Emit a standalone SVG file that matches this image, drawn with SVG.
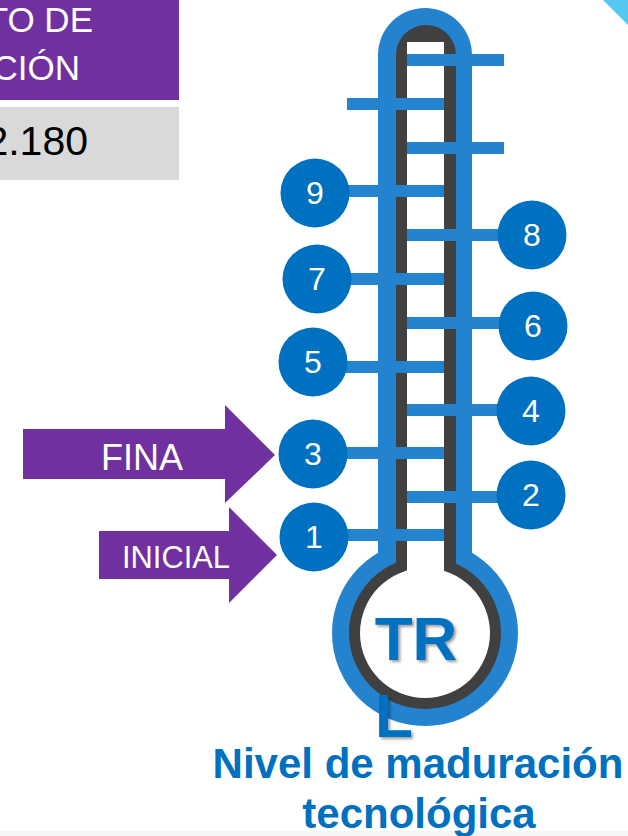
<svg xmlns="http://www.w3.org/2000/svg" width="628" height="836" viewBox="0 0 628 836">
<defs>
<style>
.lvl{fill:#0070C0}
.num{fill:#fff;font-family:"Liberation Sans",Arial,sans-serif;font-size:32px;text-anchor:middle}
.tick{stroke:#2483CF;stroke-width:12;fill:none}
.arrow{fill:#7030A0}
.wt{fill:#fff;font-family:"Liberation Sans",Arial,sans-serif}
.blue{fill:#0070C0;font-family:"Liberation Sans",Arial,sans-serif;font-weight:bold}
</style>
<filter id="sh" x="-20%" y="-20%" width="140%" height="140%">
<feDropShadow dx="2" dy="2" stdDeviation="1.5" flood-color="#000" flood-opacity="0.4"/>
</filter>
</defs>
<rect width="628" height="836" fill="#fff"/>
<polygon points="603,0 628,0 628,25" fill="#55C6F2"/>
<rect x="0" y="831" width="628" height="5" fill="#f5f5f5"/>

<g id="title-box">
<rect x="0" y="0" width="179" height="100" fill="#7030A0"/>
<text class="wt" x="93" y="32" font-size="35" text-anchor="end">TO DE</text>
<text class="wt" x="80" y="80" font-size="35" text-anchor="end">CIÓN</text>
</g>
<g id="value-box">
<rect x="0" y="107" width="179" height="73" fill="#D9D9D9"/>
<text x="88" y="155" font-family="'Liberation Sans',Arial,sans-serif" font-size="41" fill="#000" text-anchor="end">2.180</text>
</g>

<g id="thermometer">
<line x1="425" y1="55" x2="425" y2="633" stroke="#2483CF" stroke-width="94" stroke-linecap="round"/>
<circle cx="425" cy="633" r="93" fill="#2483CF"/>
<line x1="426" y1="55" x2="426" y2="633" stroke="#404040" stroke-width="60" stroke-linecap="round"/>
<circle cx="425" cy="633" r="76" fill="#404040"/>
<rect x="407" y="42" width="37" height="560" fill="#fff"/>
<circle cx="425" cy="633" r="65" fill="#fff"/>
</g>

<g id="connectors">
<line class="tick" x1="407" y1="60" x2="504" y2="60"/>
<line class="tick" x1="347" y1="104" x2="444" y2="104"/>
<line class="tick" x1="407" y1="148" x2="504" y2="148"/>
<line class="tick" x1="315" y1="191" x2="444" y2="191"/>
<line class="tick" x1="407" y1="235" x2="532" y2="235"/>
<line class="tick" x1="317" y1="279" x2="444" y2="279"/>
<line class="tick" x1="407" y1="323" x2="533" y2="323"/>
<line class="tick" x1="313" y1="367" x2="444" y2="367"/>
<line class="tick" x1="407" y1="410" x2="531" y2="410"/>
<line class="tick" x1="313" y1="453" x2="444" y2="453"/>
<line class="tick" x1="407" y1="497" x2="531" y2="497"/>
<line class="tick" x1="314" y1="535" x2="444" y2="535"/>
</g>

<g id="level-9"><circle class="lvl" cx="315" cy="193" r="34.5"/><text class="num" x="315" y="204">9</text></g>
<g id="level-8"><circle class="lvl" cx="532" cy="235" r="34.5"/><text class="num" x="532" y="246">8</text></g>
<g id="level-7"><circle class="lvl" cx="317" cy="279" r="34.5"/><text class="num" x="317" y="290">7</text></g>
<g id="level-6"><circle class="lvl" cx="533" cy="326" r="34.5"/><text class="num" x="533" y="337">6</text></g>
<g id="level-5"><circle class="lvl" cx="313" cy="362" r="34.5"/><text class="num" x="313" y="373">5</text></g>
<g id="level-4"><circle class="lvl" cx="531" cy="411" r="34.5"/><text class="num" x="531" y="422">4</text></g>
<g id="level-3"><circle class="lvl" cx="313" cy="454" r="34.5"/><text class="num" x="313" y="465">3</text></g>
<g id="level-2"><circle class="lvl" cx="531" cy="495" r="34.5"/><text class="num" x="531" y="506">2</text></g>
<g id="level-1"><circle class="lvl" cx="314" cy="537" r="34.5"/><text class="num" x="314" y="548">1</text></g>

<g id="bulb-label" filter="url(#sh)">
<text class="blue" x="416" y="660" font-size="62" text-anchor="middle">TR</text>
<text class="blue" x="375" y="737" font-size="62">L</text>
</g>

<g id="arrow-fina">
<polygon class="arrow" points="23,429 225,429 225,405 275,455 225,503 225,479 23,479"/>
<text class="wt" x="142" y="470" font-size="36" text-anchor="middle">FINA</text>
</g>
<g id="arrow-inicial">
<polygon class="arrow" points="99,531 229,531 229,507 277,555 229,603 229,579 99,579"/>
<text class="wt" x="122" y="568" font-size="32" textLength="108" lengthAdjust="spacingAndGlyphs">INICIAL</text>
</g>

<g id="caption">
<text class="blue" x="418" y="778" font-size="42" text-anchor="middle">Nivel de maduración</text>
<text class="blue" x="419" y="828" font-size="42" text-anchor="middle">tecnológica</text>
</g>
</svg>
